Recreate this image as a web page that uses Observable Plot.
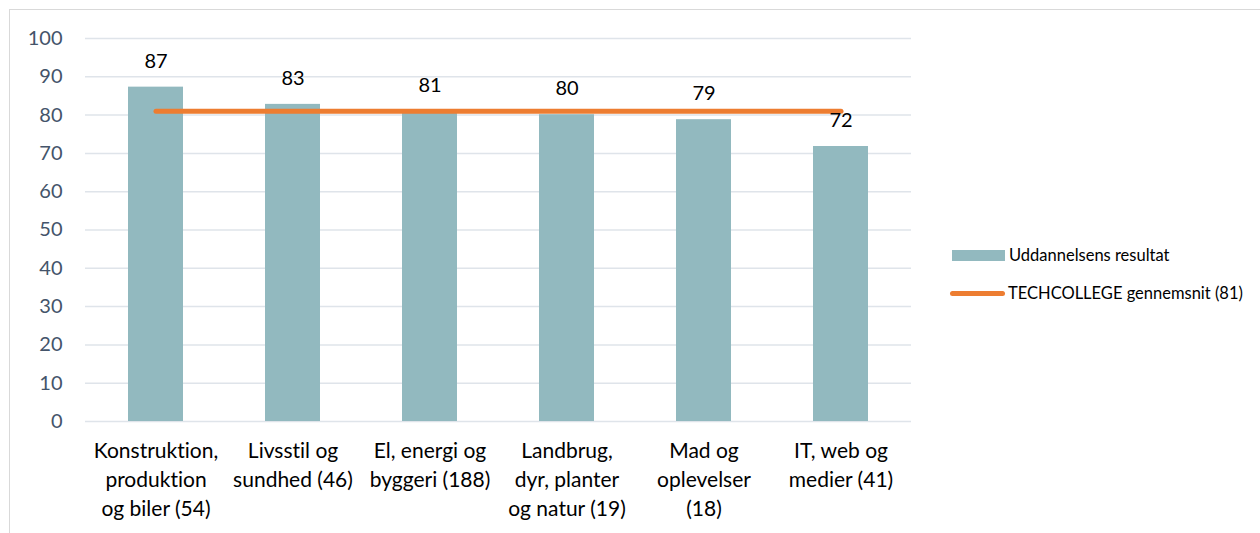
<!DOCTYPE html>
<html><head><meta charset="utf-8">
<script src="https://cdn.jsdelivr.net/npm/d3@7"></script>
<script src="https://cdn.jsdelivr.net/npm/@observablehq/plot@0.6"></script>
<style>
body{margin:0;background:#fff;font-family:Lato,"Open Sans",sans-serif;font-variant-ligatures:none;}
svg text{font-variant-ligatures:none;}
#wrap{position:relative;width:1260px;height:533px;overflow:hidden;}
#frame{position:absolute;left:9px;top:9px;width:1300px;height:600px;border:1px solid #d9d9d9;box-sizing:border-box;}
#legend{position:absolute;left:950px;top:243px;font-size:16.5px;color:#000;}
.li{display:flex;align-items:center;height:24px;margin-bottom:14px;}
.sw{width:53px;height:11px;background:#92B9BF;margin-right:4px;margin-left:2px;}
.ln{width:55px;height:5px;background:#ED7D31;border-radius:3px;margin-right:3px;}
</style></head>
<body>
<div id="wrap"><div id="frame"></div><div id="chart"></div>
<div id="legend">
<div class="li"><div class="sw"></div><span>Uddannelsens resultat</span></div>
<div class="li"><div class="ln"></div><span>TECHCOLLEGE gennemsnit (81)</span></div>
</div></div>
<script>
const categories = [
  "Konstruktion,\nproduktion\nog biler (54)",
  "Livsstil og\nsundhed (46)",
  "El, energi og\nbyggeri (188)",
  "Landbrug,\ndyr, planter\nog natur (19)",
  "Mad og\noplevelser\n(18)",
  "IT, web og\nmedier (41)"
];
const results = [87.3, 82.8, 81.0, 80.1, 78.8, 71.8];
const average = [81, 81, 81, 81, 81, 81];
const yTicks = [0, 10, 20, 30, 40, 50, 60, 70, 80, 90, 100];

const data = categories.map((c, i) => ({cat: c, value: results[i], avg: average[i]}));

const chart = Plot.plot({
  width: 1260,
  height: 533,
  marginLeft: 85,
  marginRight: 349,
  marginTop: 38,
  marginBottom: 112,
  style: {fontFamily: "Lato, 'Open Sans', sans-serif", background: "transparent", overflow: "visible"},
  x: {domain: categories, paddingInner: 0.6, paddingOuter: 0.3, label: null},
  y: {domain: [0, 100], label: null},
  marks: [
    Plot.gridY(yTicks, {stroke: "#dfe4ea", strokeOpacity: 1, strokeWidth: 1.5}),
    Plot.barY(data, {x: "cat", y: "value", fill: "#92B9BF"}),
    Plot.lineY(data, {x: "cat", y: "avg", stroke: "#ED7D31", strokeWidth: 5, strokeLinecap: "round"}),
    Plot.text(data, {x: "cat", y: "value", text: d => d3.format(".0f")(d.value), dy: -26, fontSize: 20, fill: "#000"}),
    Plot.axisY({ticks: yTicks, tickSize: 0, tickPadding: 23, fontSize: 20, color: "#44546A", label: null}),
    Plot.axisX({tickSize: 0, tickPadding: 16, fontSize: 21, lineHeight: 1.38, color: "#000", label: null})
  ]
});
document.getElementById("chart").appendChild(chart);
</script>
</body></html>
